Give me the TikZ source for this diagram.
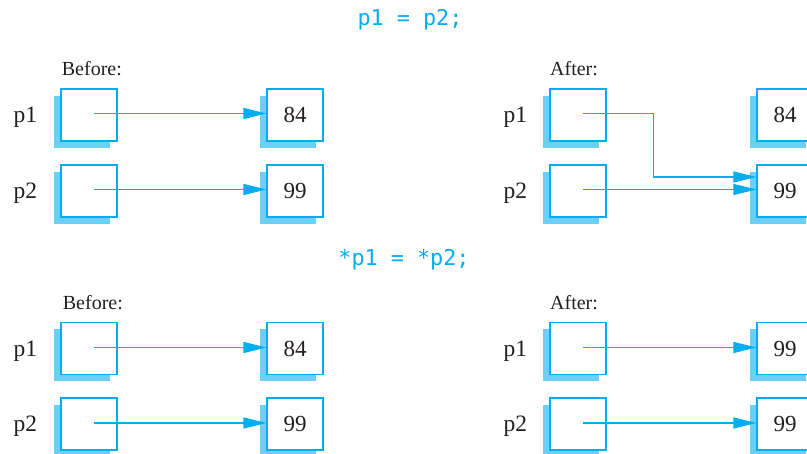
\documentclass[tikz,border=0pt]{standalone}
\usepackage{fontspec}
\setmainfont{Liberation Serif}
\setmonofont{DejaVu Sans Mono}
\usetikzlibrary{arrows.meta,shadows}
\definecolor{cy}{HTML}{00AEEF}
\definecolor{sh}{HTML}{6DCFF6}
\definecolor{ink}{HTML}{231F20}
\tikzset{
 cell/.style={draw=cy, line width=1.2pt, fill=white, minimum width=56pt, minimum height=52pt, inner sep=0pt,
   font=\fontsize{23}{23}\selectfont, text=ink,
   general shadow={fill=sh, shadow xshift=-7pt, shadow yshift=-7pt}},
 lbl/.style={anchor=base west, inner sep=0pt, font=\fontsize{23.5}{23.5}\selectfont, text=ink},
 head/.style={anchor=base west, inner sep=0pt, font=\fontsize{20}{20}\selectfont, text=ink},
 code/.style={anchor=base, inner sep=0pt, font=\ttfamily\fontsize{21.8}{21.8}\selectfont, text=cy},
 ptr/.style={draw=cy, line width=1.2pt, -{Triangle[length=23pt,width=11pt]}},
}
\begin{document}
\begin{tikzpicture}[x=1pt,y=-1pt]
\useasboundingbox (0,0) rectangle (807,454);
\clip (0,0) rectangle (807,454);
% titles
\node[code] (t1) at (410,26) {p1 = p2;};
\node[code] (t2) at (404,266) {*p1 = *p2;};
% headings
\node[head] (h1) at (61.7,75.7) {Before:};
\node[head] (h2) at (550,75.7) {After:};
\node[head] (h3) at (62.7,310) {Before:};
\node[head] (h4) at (550,310) {After:};
% labels
\node[lbl] (l1) at (13.3,123) {p1};
\node[lbl] (l2) at (13.3,199) {p2};
\node[lbl] (l3) at (503.3,123) {p1};
\node[lbl] (l4) at (503.3,199) {p2};
\node[lbl] (l5) at (13.3,356.5) {p1};
\node[lbl] (l6) at (13.3,432) {p2};
\node[lbl] (l7) at (503.3,356.5) {p1};
\node[lbl] (l8) at (503.3,432) {p2};
% top before
\node[cell] (a1) at (89,115) {};
\node[cell] (b1) at (295,115) {84};
\node[cell] (a2) at (89,191) {};
\node[cell] (b2) at (295,191) {99};
% top after
\node[cell] (c1) at (578,115) {};
\node[cell] (d1) at (785,115) {84};
\node[cell] (c2) at (578,191) {};
\node[cell] (d2) at (785,191) {99};
% bottom before
\node[cell] (e1) at (89,348.5) {};
\node[cell] (f1) at (295,348.5) {84};
\node[cell] (e2) at (89,424) {};
\node[cell] (f2) at (295,424) {99};
% bottom after
\node[cell] (g1) at (578,348.5) {};
\node[cell] (k1) at (785,348.5) {99};
\node[cell] (g2) at (578,424) {};
\node[cell] (k2) at (785,424) {99};
% arrows
\draw[ptr] ([xshift=5pt,yshift=1.5pt]a1.center) -- ([yshift=1.5pt]b1.west);
\draw[ptr] ([xshift=5pt,yshift=1.5pt]a2.center) -- ([yshift=1.5pt]b2.west);
\coordinate (bend) at (653.3,177);
\draw[ptr] ([xshift=5pt,yshift=1.5pt]c1.center) -| (bend) -- ([yshift=14pt]d2.west);
\draw[ptr] ([xshift=5pt,yshift=1.5pt]c2.center) -- ([yshift=1.5pt]d2.west);
\draw[ptr] ([xshift=5pt,yshift=1pt]e1.center) -- ([yshift=1pt]f1.west);
\draw[ptr] ([xshift=5pt,yshift=1pt]e2.center) -- ([yshift=1pt]f2.west);
\draw[ptr] ([xshift=5pt,yshift=1pt]g1.center) -- ([yshift=1pt]k1.west);
\draw[ptr] ([xshift=5pt,yshift=1pt]g2.center) -- ([yshift=1pt]k2.west);
\end{tikzpicture}
\end{document}
